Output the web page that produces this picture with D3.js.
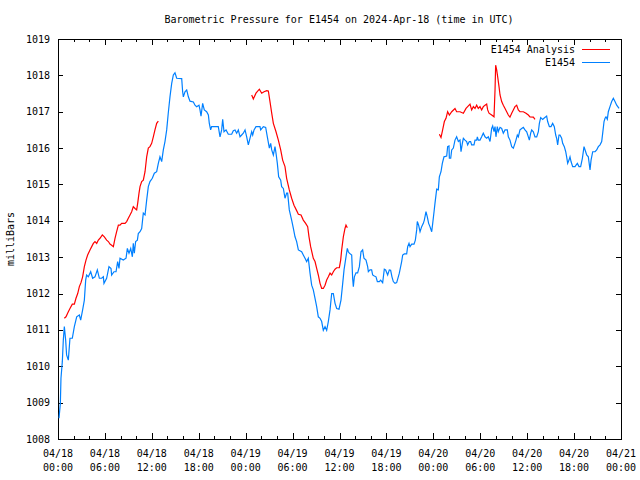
<!DOCTYPE html>
<html>
<head>
<meta charset="utf-8">
<script src="https://cdn.jsdelivr.net/npm/d3@7"></script>
<style>
  html, body { margin: 0; padding: 0; background: #fff; }
  svg { display: block; }
  text { font-family: "DejaVu Sans Mono", "Liberation Mono", monospace; font-size: 10px; fill: #000; }
</style>
</head>
<body>
<script>
// ---- Data (hours since 2024-04-18 00:00 UTC, pressure in mb) ----
const titleText = "Barometric Pressure for E1454 on 2024-Apr-18 (time in UTC)";
const yLabelText = "milliBars";
const seriesNames = ["E1454 Analysis", "E1454"];
const xTickHours = [0, 6, 12, 18, 24, 30, 36, 42, 48, 54, 60, 66, 72];
const xTickDates = ["04/18","04/18","04/18","04/18","04/19","04/19","04/19","04/19","04/20","04/20","04/20","04/20","04/21"];
const xTickTimes = ["00:00","06:00","12:00","18:00","00:00","06:00","12:00","18:00","00:00","06:00","12:00","18:00","00:00"];
const yTickValues = [1008, 1009, 1010, 1011, 1012, 1013, 1014, 1015, 1016, 1017, 1018, 1019];

const stationHours = [
 0.13,0.3,0.38,0.55,0.68,0.81,0.98,1.1,1.32,1.53,1.83,2.09,2.39,2.73,2.9,3.15,3.37,3.54,3.66,3.88,
 4.18,4.43,4.73,5.03,5.29,5.58,5.8,5.88,6.22,6.52,6.78,6.86,7.16,7.42,7.63,7.8,7.93,8.35,8.7,8.87,
 9.08,9.3,9.51,9.63,9.76,9.93,10.15,10.27,10.49,10.7,10.91,11.13,11.34,11.55,11.76,12.06,12.32,12.62,12.83,13.04,
 13.26,13.47,13.68,13.9,14.1,14.32,14.54,14.75,14.96,15.18,15.82,15.94,16.03,16.24,16.46,16.67,16.88,17.31,17.52,17.73,
 18.03,18.16,18.29,18.5,18.71,19.01,19.23,19.35,19.52,19.65,20.08,20.5,20.72,20.93,21.06,21.23,21.49,21.78,22.21,22.42,
 22.64,22.85,23.06,23.28,23.49,23.7,23.92,24.13,24.34,24.55,24.77,24.9,25.07,25.32,25.83,25.92,26.26,26.56,26.77,27.03,
 27.2,27.33,27.54,27.75,27.88,28.05,28.22,28.48,28.6,28.82,29.03,29.24,29.37,29.58,29.88,30.1,30.31,30.52,30.74,31.16,
 31.37,31.59,31.8,32.01,32.23,32.44,32.65,32.87,33.08,33.29,33.51,33.72,33.93,34.15,34.36,34.57,34.79,35.0,35.21,35.43,
 35.64,35.94,36.19,36.41,36.58,36.83,37.0,37.13,37.26,37.56,37.68,37.77,37.9,38.11,38.32,38.54,38.75,38.96,39.13,39.39,
 39.6,39.69,39.9,40.11,40.24,40.45,40.67,40.84,41.09,41.26,41.52,41.73,41.9,42.16,42.37,42.54,42.71,42.88,43.1,43.31,
 43.52,43.65,43.82,43.95,44.08,44.29,44.59,44.72,44.89,45.02,45.23,45.53,45.7,45.87,45.95,46.12,46.3,46.51,46.72,46.85,
 47.06,47.23,47.4,47.57,47.79,47.92,48.09,48.21,48.43,48.64,48.77,48.98,49.15,49.36,49.71,49.83,50.0,50.05,50.22,50.35,
 50.56,50.77,50.98,51.2,51.41,51.54,51.71,51.84,52.05,52.26,52.39,52.6,52.77,52.9,53.2,53.33,53.54,53.63,53.75,53.97,
 54.18,54.39,54.61,54.82,55.03,55.25,55.46,55.59,55.76,55.89,56.01,56.18,56.31,56.53,56.74,56.95,57.17,57.46,57.59,57.8,
 58.02,58.23,58.44,58.57,58.74,58.87,59.08,59.3,59.51,59.72,59.94,60.15,60.28,60.45,60.58,60.79,61.0,61.22,61.43,61.56,
 61.73,61.98,62.15,62.49,62.62,62.84,63.05,63.26,63.47,63.65,63.77,63.9,64.07,64.2,64.41,64.54,64.75,64.93,65.05,65.18,
 65.35,65.48,65.61,65.82,66.12,66.25,66.42,66.63,66.84,67.06,67.27,67.48,67.61,67.82,68.04,68.17,68.38,68.68,68.89,69.1,
 69.32,69.53,69.66,69.83,69.96,70.08,70.25,70.38,70.59,70.81,71.02,71.23,71.45,71.75
];
const stationPressure = [
 1008.57,1008.98,1009.67,1010.12,1010.72,1011.09,1010.72,1010.31,1010.17,1010.77,1010.77,1011.09,1011.36,1011.41,1011.27,1011.55,1011.82,1012.37,1012.51,1012.46,
 1012.60,1012.42,1012.46,1012.65,1012.42,1012.42,1012.46,1012.28,1012.42,1012.74,1012.69,1012.51,1012.60,1012.60,1012.88,1012.69,1012.97,1012.92,1012.97,1013.24,
 1013.11,1013.24,1013.01,1013.38,1013.11,1013.43,1013.47,1013.65,1013.70,1013.79,1014.21,1014.16,1014.57,1014.94,1015.08,1015.17,1015.31,1015.35,1015.58,1015.76,
 1015.63,1015.95,1016.18,1016.50,1016.96,1017.41,1017.78,1018.01,1018.07,1017.92,1017.91,1017.55,1017.41,1017.55,1017.60,1017.41,1017.29,1017.27,1017.18,1017.14,
 1017.18,1017.05,1016.88,1017.23,1017.05,1017.00,1016.91,1016.68,1016.50,1016.59,1016.59,1016.59,1016.31,1016.50,1016.79,1016.45,1016.50,1016.38,1016.38,1016.48,
 1016.50,1016.41,1016.50,1016.31,1016.36,1016.41,1016.50,1016.31,1016.09,1016.27,1016.45,1016.36,1016.50,1016.59,1016.59,1016.50,1016.59,1016.57,1016.31,1016.00,
 1016.13,1015.95,1015.81,1016.04,1015.86,1015.58,1015.21,1015.12,1014.94,1014.89,1014.62,1014.76,1014.76,1014.30,1014.02,1013.79,1013.56,1013.43,1013.20,1013.15,
 1013.06,1012.97,1012.88,1012.97,1012.56,1012.23,1012.10,1011.87,1011.64,1011.36,1011.32,1011.23,1010.99,1011.09,1010.99,1011.23,1011.55,1012.00,1012.00,1011.73,
 1011.59,1011.57,1011.82,1012.28,1012.65,1013.01,1013.24,1013.15,1013.11,1013.06,1012.42,1012.19,1012.46,1012.57,1012.57,1012.74,1013.15,1013.20,1012.97,1012.92,
 1012.74,1012.60,1012.65,1012.65,1012.51,1012.48,1012.46,1012.33,1012.33,1012.37,1012.30,1012.67,1012.65,1012.51,1012.65,1012.64,1012.46,1012.33,1012.28,1012.30,
 1012.46,1012.56,1012.74,1012.88,1013.06,1013.09,1013.09,1013.29,1013.38,1013.29,1013.36,1013.36,1013.47,1013.75,1013.98,1013.88,1013.70,1013.84,1013.93,1014.02,
 1014.25,1014.11,1013.93,1013.84,1013.70,1013.93,1014.25,1014.48,1014.87,1014.85,1015.21,1015.35,1015.58,1015.76,1015.78,1016.04,1016.06,1015.72,1015.72,1015.95,
 1016.00,1016.22,1016.31,1016.18,1016.22,1015.90,1016.13,1016.27,1016.22,1016.18,1016.09,1016.18,1016.18,1016.09,1016.09,1016.22,1016.22,1016.31,1016.22,1016.22,
 1016.31,1016.41,1016.31,1016.27,1016.31,1016.18,1016.54,1016.61,1016.45,1016.59,1016.31,1016.59,1016.45,1016.57,1016.54,1016.41,1016.50,1016.50,1016.31,1016.22,
 1016.04,1016.00,1016.13,1016.22,1016.36,1016.31,1016.50,1016.54,1016.57,1016.50,1016.45,1016.31,1016.22,1016.41,1016.50,1016.45,1016.31,1016.31,1016.45,1016.68,
 1016.84,1016.79,1016.82,1016.88,1016.73,1016.59,1016.59,1016.68,1016.59,1016.36,1016.27,1016.09,1016.36,1016.36,1016.27,1016.13,1016.04,1015.90,1015.76,1015.58,
 1015.67,1015.76,1015.63,1015.49,1015.49,1015.53,1015.58,1015.49,1015.49,1015.72,1016.04,1015.90,1015.81,1015.76,1015.40,1015.67,1015.90,1015.90,1015.95,1016.04,
 1016.09,1016.18,1016.41,1016.73,1016.82,1016.86,1016.79,1017.00,1017.14,1017.28,1017.37,1017.28,1017.18,1017.09
];

// Analysis: three separate runs (null marks a gap)
const analysisHours = [
 0.81,1.02,1.32,1.53,1.83,2.09,2.3,2.52,2.73,2.94,3.15,3.37,3.58,3.79,4.09,4.31,4.52,4.73,4.95,5.16,
 5.37,5.67,5.93,6.22,6.44,6.65,6.86,7.08,7.29,7.5,7.72,7.93,8.14,8.57,8.78,8.99,9.21,9.42,9.63,9.85,
 10.06,10.19,10.36,10.49,10.7,10.91,11.13,11.34,11.55,11.76,11.98,12.19,12.4,12.62,12.83,
 null,
 24.77,24.98,25.32,25.75,26.05,26.35,26.69,26.9,27.11,27.33,27.54,27.88,28.18,28.48,28.73,29.03,29.24,29.58,29.88,30.18,
 30.52,30.74,31.08,31.37,31.67,31.93,32.1,32.31,32.65,32.87,33.08,33.29,33.51,33.72,33.93,34.15,34.36,34.57,34.79,35.0,
 35.21,35.43,35.64,35.98,36.15,36.28,36.49,36.7,36.83,37.0,
 null,
 48.77,48.98,49.19,49.41,49.62,49.83,50.05,50.35,50.77,50.98,51.41,51.84,52.18,52.39,52.69,52.9,53.12,53.33,53.54,53.75,
 53.97,54.18,54.39,54.61,54.82,54.95,55.12,55.46,55.76,55.89,55.97,56.1,56.23,56.4,56.53,56.74,56.95,57.17,57.38,57.59,
 57.8,58.02,58.23,58.44,58.66,58.87,59.08,59.51,59.85,60.15,60.36,60.79,61.0
];
const analysisPressure = [
 1011.32,1011.36,1011.50,1011.59,1011.71,1011.71,1011.87,1012.00,1012.19,1012.30,1012.46,1012.74,1012.92,1013.06,1013.20,1013.29,1013.38,1013.43,1013.38,1013.47,
 1013.52,1013.61,1013.56,1013.47,1013.43,1013.36,1013.33,1013.29,1013.52,1013.70,1013.88,1013.88,1013.93,1013.93,1013.98,1014.07,1014.16,1014.25,1014.39,1014.34,
 1014.30,1014.48,1014.76,1014.94,1015.08,1015.12,1015.35,1015.76,1016.00,1016.04,1016.13,1016.31,1016.50,1016.68,1016.74,
 null,
 1017.46,1017.35,1017.51,1017.62,1017.51,1017.55,1017.58,1017.57,1017.28,1016.96,1016.68,1016.45,1016.22,1015.95,1015.67,1015.49,1015.17,1014.85,1014.62,1014.43,
 1014.28,1014.18,1014.16,1014.02,1013.93,1013.84,1013.56,1013.29,1012.97,1012.88,1012.69,1012.51,1012.28,1012.14,1012.14,1012.23,1012.37,1012.46,1012.56,1012.51,
 1012.60,1012.67,1012.71,1012.71,1012.92,1013.20,1013.56,1013.79,1013.88,1013.81,
 null,
 1016.38,1016.29,1016.50,1016.73,1016.82,1017.00,1016.91,1017.00,1017.09,1017.00,1017.00,1016.96,1017.09,1017.14,1017.21,1017.05,1017.14,1017.09,1017.18,1017.09,
 1017.14,1017.05,1017.14,1017.18,1017.21,1017.05,1016.96,1016.91,1016.86,1017.60,1018.28,1018.15,1017.96,1017.69,1017.46,1017.28,1017.18,1017.09,1017.00,1016.91,
 1016.85,1016.96,1017.05,1017.14,1017.18,1017.05,1017.00,1017.00,1016.96,1016.91,1016.86,1016.85,1016.79
];

const seriesColors = ["#ff0000", "#0080ff"];

// ---- Layout ----
const W = 640, H = 480;
const plot = { left: 58, right: 621, top: 39, bottom: 439 };

const svg = d3.select("body").append("svg").attr("width", W).attr("height", H);
svg.append("rect").attr("width", W).attr("height", H).attr("fill", "#fff");

const x = d3.scaleLinear().domain([0, 72]).range([plot.left, plot.right]);
const y = d3.scaleLinear().domain([1008, 1019]).range([plot.bottom, plot.top]);

// minor x ticks every 2 hours
const minorX = d3.range(0, 73, 2).filter(h => h % 6 !== 0);

// axes with inward ticks
const bottomMajor = d3.axisBottom(x).tickValues(xTickHours).tickSize(-6).tickFormat("");
const bottomMinor = d3.axisBottom(x).tickValues(minorX).tickSize(-3).tickFormat("");
const topMajor = d3.axisTop(x).tickValues(xTickHours).tickSize(-6).tickFormat("");
const topMinor = d3.axisTop(x).tickValues(minorX).tickSize(-3).tickFormat("");
const leftAx = d3.axisLeft(y).tickValues(yTickValues).tickSize(-5).tickFormat("");
const rightAx = d3.axisRight(y).tickValues(yTickValues).tickSize(-5).tickFormat("");

function styleAxis(g) {
  g.select(".domain").remove();
  g.selectAll(".tick line").attr("stroke", "#000").attr("shape-rendering", "crispEdges");
}
svg.append("g").attr("transform", `translate(0,${plot.bottom})`).call(bottomMajor).call(styleAxis);
svg.append("g").attr("transform", `translate(0,${plot.bottom})`).call(bottomMinor).call(styleAxis);
svg.append("g").attr("transform", `translate(0,${plot.top})`).call(topMajor).call(styleAxis);
svg.append("g").attr("transform", `translate(0,${plot.top})`).call(topMinor).call(styleAxis);
svg.append("g").attr("transform", `translate(${plot.left},0)`).call(leftAx).call(styleAxis);
svg.append("g").attr("transform", `translate(${plot.right},0)`).call(rightAx).call(styleAxis);

// frame
svg.append("rect")
  .attr("x", plot.left + 0.5).attr("y", plot.top + 0.5)
  .attr("width", plot.right - plot.left).attr("height", plot.bottom - plot.top)
  .attr("fill", "none").attr("stroke", "#000").attr("stroke-width", 1)
  .attr("shape-rendering", "crispEdges");

// y tick labels
svg.append("g").selectAll("text").data(yTickValues).join("text")
  .attr("x", plot.left - 8).attr("y", d => y(d)).attr("dy", "0.35em")
  .attr("text-anchor", "end").text(d => d);

// x tick labels (two lines)
const xl = svg.append("g").selectAll("g").data(xTickHours).join("g")
  .attr("transform", d => `translate(${x(d)},0)`);
xl.append("text").attr("y", plot.bottom + 18).attr("text-anchor", "middle").text((d, i) => xTickDates[i]);
xl.append("text").attr("y", plot.bottom + 32).attr("text-anchor", "middle").text((d, i) => xTickTimes[i]);

// title
svg.append("text").attr("x", 339).attr("y", 23).attr("text-anchor", "middle").text(titleText);

// y label
svg.append("text").attr("transform", `translate(14,${(plot.top + plot.bottom) / 2}) rotate(-90)`)
  .attr("text-anchor", "middle").text(yLabelText);

// lines
const line = d3.line()
  .defined(d => d[0] != null && d[1] != null)
  .x(d => x(d[0])).y(d => y(d[1]));

const stationData = stationHours.map((h, i) => [h, stationPressure[i]]);
const analysisData = analysisHours.map((h, i) => [h, analysisPressure[i]]);

svg.append("path").datum(stationData).attr("d", line)
  .attr("fill", "none").attr("stroke", seriesColors[1]).attr("stroke-width", 1.2);
svg.append("path").datum(analysisData).attr("d", line)
  .attr("fill", "none").attr("stroke", seriesColors[0]).attr("stroke-width", 1.2);

// legend
const legend = svg.append("g");
seriesNames.forEach((name, i) => {
  const ly = 49 + i * 13.5;
  legend.append("text").attr("x", 575).attr("y", ly).attr("dy", "0.35em")
    .attr("text-anchor", "end").text(name);
  legend.append("line").attr("x1", 582).attr("x2", 610).attr("y1", ly).attr("y2", ly)
    .attr("stroke", seriesColors[i]).attr("stroke-width", 1).attr("shape-rendering", "crispEdges");
});
</script>
</body>
</html>
